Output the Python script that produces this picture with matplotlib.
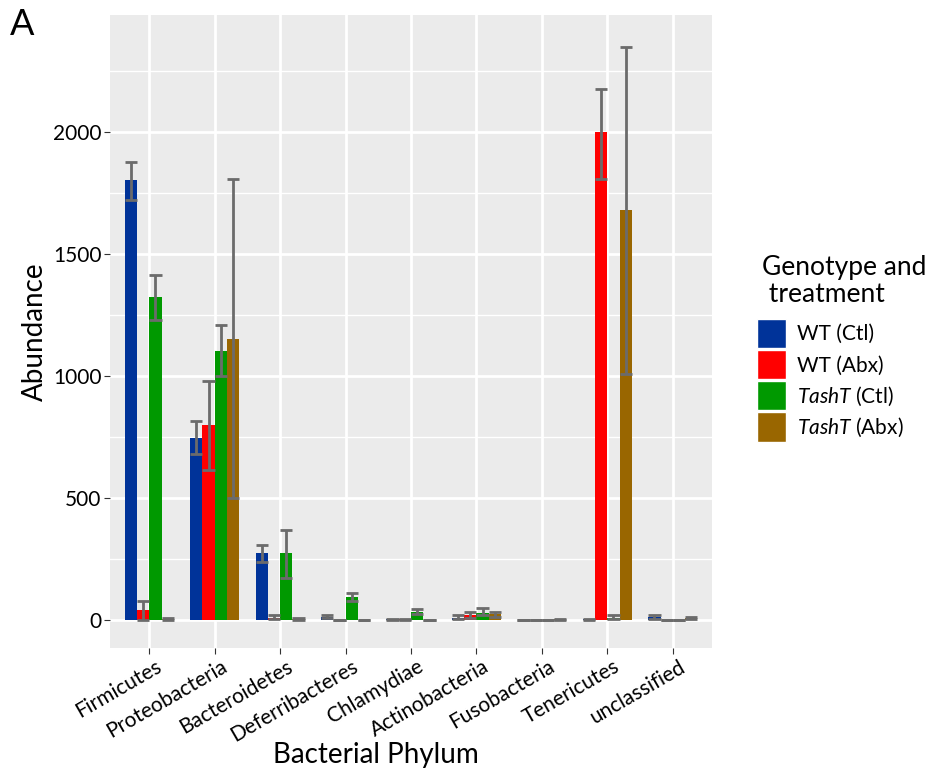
import matplotlib
matplotlib.use("Agg")
import matplotlib.pyplot as plt
import matplotlib.transforms as mtransforms
from matplotlib.patches import Patch
import numpy as np

plt.rcParams['font.family'] = ['Lato', 'DejaVu Sans']
plt.rcParams['mathtext.fontset'] = 'custom'
plt.rcParams['mathtext.it'] = 'Lato:italic'
plt.rcParams['mathtext.rm'] = 'Lato'

# data
phyla = ['Firmicutes', 'Proteobacteria', 'Bacteroidetes', 'Deferribacteres',
         'Chlamydiae', 'Actinobacteria', 'Fusobacteria', 'Tenericutes', 'unclassified']
groups = ['WT (Ctl)', 'WT (Abx)', r'$\it{TashT}$ (Ctl)', r'$\it{TashT}$ (Abx)']
colors = ['#003399', '#FF0000', '#009900', '#996600']

wt_ctl = [1803, 748, 275, 15, 3, 8, 1, 3, 12]
wt_ctl_lo = [1722, 680, 240, 10, 1, 3, 0, 0, 5]
wt_ctl_hi = [1880, 815, 310, 20, 5, 20, 2, 7, 22]

wt_abx = [40, 800, 10, 0, 3, 20, 1, 2000, 1]
wt_abx_lo = [0, 615, 5, 0, 1, 10, 0, 1810, 0]
wt_abx_hi = [79, 980, 20, 1, 5, 32, 2, 2180, 2]

tasht_ctl = [1325, 1105, 275, 94, 34, 30, 1, 10, 1]
tasht_ctl_lo = [1230, 1000, 175, 80, 25, 20, 0, 5, 0]
tasht_ctl_hi = [1415, 1210, 370, 112, 45, 50, 2, 20, 2]

tasht_abx = [5, 1155, 5, 0, 0, 25, 3, 1680, 8]
tasht_abx_lo = [2, 500, 2, 0, 0, 15, 1, 1010, 3]
tasht_abx_hi = [8, 1810, 8, 1, 1, 35, 5, 2350, 15]

means = [wt_ctl, wt_abx, tasht_ctl, tasht_abx]
lows = [wt_ctl_lo, wt_abx_lo, tasht_ctl_lo, tasht_abx_lo]
highs = [wt_ctl_hi, wt_abx_hi, tasht_ctl_hi, tasht_abx_hi]

fig = plt.figure(figsize=(9.32, 7.69), dpi=100)
ax = fig.add_axes([0.118, 0.157, 0.646, 0.823])
ax.set_facecolor('#EBEBEB')

x = np.arange(1, len(phyla) + 1)
bw = 0.1875
for i in range(4):
    xs = x + (i - 1.5) * bw
    m = np.array(means[i])
    lo = np.array(lows[i])
    hi = np.array(highs[i])
    ax.bar(xs, m, width=bw, color=colors[i], zorder=2)
    ax.vlines(xs, lo, hi, color='#6B6B6B', lw=2, zorder=3)
    ax.hlines(lo, xs - bw / 2, xs + bw / 2, color='#6B6B6B', lw=2, zorder=3)
    ax.hlines(hi, xs - bw / 2, xs + bw / 2, color='#6B6B6B', lw=2, zorder=3)

ax.set_xlim(0.4, 9.6)
ax.set_ylim(-115, 2480)
ax.set_yticks([0, 500, 1000, 1500, 2000])
ax.set_yticks([250, 750, 1250, 1750, 2250], minor=True)
ax.tick_params(axis='y', labelsize=15, length=4, color='#333333', pad=2)
ax.tick_params(axis='x', length=4, color='#333333', pad=2)
ax.tick_params(which='minor', length=0)
ax.set_xticks(x)
ax.set_xticklabels(phyla, rotation=30, ha='right', va='top',
                   rotation_mode='anchor', fontsize=15)
# nudge rotated labels a little to the right, like ggplot's hjust
shift = mtransforms.ScaledTranslation(6 / 100, 0, fig.dpi_scale_trans)
for lab in ax.get_xticklabels():
    lab.set_transform(lab.get_transform() + shift)
ax.grid(which='major', color='white', lw=2, zorder=0)
ax.grid(which='minor', axis='y', color='white', lw=1, zorder=0)
ax.set_axisbelow(True)
for s in ax.spines.values():
    s.set_visible(False)

ax.set_ylabel('Abundance', fontsize=20, labelpad=4)
fig.text(376 / 932, 1 - 763 / 769, 'Bacterial Phylum', fontsize=20,
         ha='center', va='baseline')

# legend: title as separate text so it can sit slightly indented
fig.text(762 / 932, 1 - 255 / 769, 'Genotype and\n treatment', fontsize=19,
         ha='left', va='top', linespacing=1.1)
handles = [Patch(facecolor=c, edgecolor='white', lw=1) for c in colors]
leg = fig.legend(handles, groups, loc='upper left',
                 bbox_to_anchor=(757 / 932, 1 - 319 / 769),
                 frameon=False, fontsize=15, handlelength=1.4, handleheight=1.77,
                 labelspacing=0.1, handletextpad=0.5, borderaxespad=0, borderpad=0)

fig.text(0.011, 0.968, 'A', fontsize=26, va='center', ha='left')

fig.savefig('out.png', dpi=100)
